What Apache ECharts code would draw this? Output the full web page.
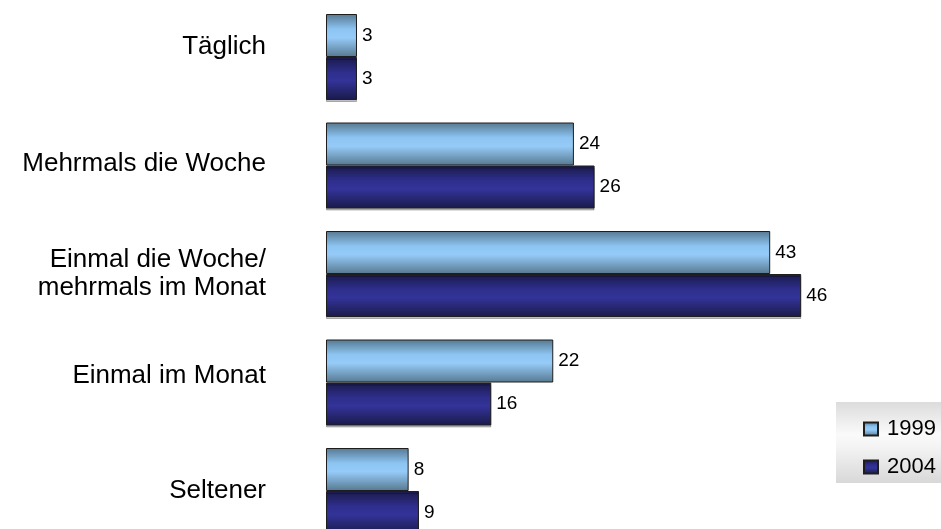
<!DOCTYPE html>
<html>
<head>
<meta charset="utf-8">
<script src="https://cdn.jsdelivr.net/npm/echarts@6/dist/echarts.min.js"></script>
<style>
  html, body { margin: 0; padding: 0; background: #fff; }
  #main { width: 941px; height: 529px; }
</style>
</head>
<body>
<div id="main"></div>
<script>
var categories = ['Täglich', 'Mehrmals die Woche', 'Einmal die Woche/\nmehrmals im Monat', 'Einmal im Monat', 'Seltener'];
var values1999 = [3, 24, 43, 22, 8];
var values2004 = [3, 26, 46, 16, 9];
var seriesNames = ['1999', '2004'];

var font = '"Liberation Sans", Arial, sans-serif';

// kleine Verschiebung einzelner Achsenbeschriftungen wie im Original (nach oben)
var labelLift = { 'Täglich': 'a', 'Mehrmals die Woche': 'b', 'Einmal im Monat': 'c' };
function lifted(bottom) {
    return { fontFamily: font, fontSize: 26, lineHeight: 28, color: '#000', padding: [0, 0, bottom, 0] };
}

function grad(edge, mid, light) {
    return new echarts.graphic.LinearGradient(0, 0, 0, 1, [
        { offset: 0, color: edge },
        { offset: 0.35, color: light },
        { offset: 0.55, color: mid },
        { offset: 1, color: edge }
    ]);
}

var chart = echarts.init(document.getElementById('main'));
var option = {
    animation: false,
    backgroundColor: '#fff',
    grid: { left: 326, top: 2.75, width: 516.5, height: 542.5, outerBoundsMode: 'none' },
    graphic: [{
        type: 'rect',
        z: 0,
        shape: { x: 836, y: 402, width: 110, height: 81 },
        style: {
            fill: new echarts.graphic.LinearGradient(0, 0, 0, 1, [
                { offset: 0, color: '#dcdcdc' },
                { offset: 0.4, color: '#fafafa' },
                { offset: 0.55, color: '#f4f4f4' },
                { offset: 1, color: '#d8d8d8' }
            ])
        }
    }],
    legend: {
        orient: 'vertical',
        left: 858,
        top: 413,
        z: 5,
        icon: 'rect',
        itemWidth: 14,
        itemHeight: 13,
        itemGap: 16,
        textStyle: { fontFamily: font, fontSize: 22, color: '#000', padding: [0, 0, 0, 4] },
        data: seriesNames
    },
    xAxis: {
        type: 'value',
        min: 0,
        max: 50,
        show: false
    },
    yAxis: {
        type: 'category',
        inverse: true,
        data: categories,
        axisLine: { show: false },
        axisTick: { show: false },
        splitLine: { show: false },
        axisLabel: {
            fontFamily: font,
            fontSize: 26,
            lineHeight: 28,
            color: '#000',
            margin: 60,
            align: 'right',
            formatter: function (v) {
                return labelLift[v] ? '{' + labelLift[v] + '|' + v + '}' : v;
            },
            rich: { a: lifted(20), b: lifted(4), c: lifted(14) }
        }
    },
    series: [{
        name: seriesNames[0],
        type: 'bar',
        data: values1999,
        barWidth: 43,
        barGap: '0%',
        itemStyle: {
            color: grad('#56788f', '#96cbf8', '#8cc4f2'),
            borderColor: '#1e1e1e',
            borderWidth: 1
        },
        label: {
            show: true,
            position: 'right',
            distance: 5,
            fontFamily: font,
            fontSize: 19,
            color: '#000'
        }
    }, {
        name: seriesNames[1],
        type: 'bar',
        data: values2004,
        barWidth: 43,
        itemStyle: {
            color: grad('#1a1a4a', '#333399', '#2e2e8c'),
            borderColor: '#1e1e1e',
            borderWidth: 1,
            shadowColor: 'rgba(0,0,0,0.25)',
            shadowOffsetY: 2
        },
        label: {
            show: true,
            position: 'right',
            distance: 5,
            fontFamily: font,
            fontSize: 19,
            color: '#000'
        }
    }]
};
chart.setOption(option);
</script>
</body>
</html>
